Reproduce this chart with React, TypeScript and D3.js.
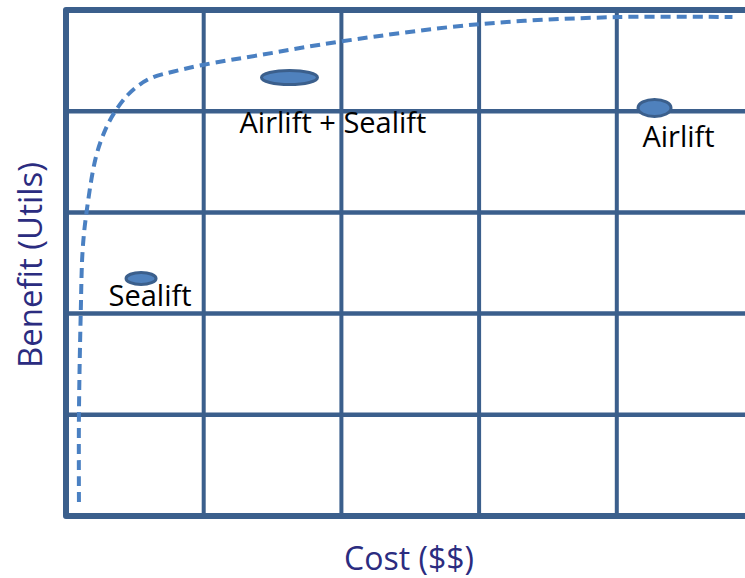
import React from "react";
import * as d3 from "d3";

// Efficient frontier curve (cost units, benefit units)
const curveCost = [0.094, 0.094, 0.107, 0.121, 0.15, 0.218, 0.29, 0.363, 0.448, 0.532, 0.63, 0.775, 0.993, 1.41, 2.0, 3.0, 4.0, 4.84];
const curveBenefit = [0.138, 1.0, 2.0, 2.63, 3.01, 3.55, 3.83, 4.01, 4.16, 4.26, 4.335, 4.39, 4.457, 4.555, 4.69, 4.86, 4.93, 4.93];

// Options
const optionNames = ["Airlift + Sealift", "Airlift", "Sealift"];
const optionCost = [1.623, 4.274, 0.545];
const optionBenefit = [4.333, 4.032, 2.347];

// Grid ticks
const xTicks = [0, 1, 2, 3, 4, 5];
const yTicks = [0, 1, 2, 3, 4, 5];

const xTitle = "Cost ($$)";
const yTitle = "Benefit (Utils)";

// styles
const markerRx = [28, 16.5, 15];
const markerRy = [7, 8.5, 6];
const labelDx = [43.5, 24, 9];
const labelDy = [55.5, 39, 28];

const W = 745;
const H = 578;
const GRID = "#3b5f8c";
const CURVE = "#4a80c2";
const FILL = "#4f81bd";
const TITLE = "#2b2c80";
const FONT = "'Open Sans', sans-serif";

export default function App() {
  const x = d3.scaleLinear().domain([0, 5]).range([66, 754.5]);
  const y = d3.scaleLinear().domain([0, 5]).range([516, 10]);

  const pts: [number, number][] = curveCost.map((c, i) => [c, curveBenefit[i]]);
  const line = d3
    .line<[number, number]>()
    .x((d) => x(d[0]))
    .y((d) => y(d[1]))
    .curve(d3.curveCatmullRom.alpha(0.5));

  return (
    <svg
      width={W}
      height={H}
      style={{ position: "absolute", left: 0, top: 0, display: "block", background: "#fff" }}
    >
      {/* inner grid lines */}
      {xTicks.slice(1).map((t) => (
        <line key={"vx" + t} x1={x(t)} x2={x(t)} y1={y(0)} y2={y(5)} stroke={GRID} strokeWidth={4} />
      ))}
      {yTicks.slice(1, -1).map((t) => (
        <line key={"hy" + t} x1={x(0)} x2={x(5)} y1={y(t)} y2={y(t)} stroke={GRID} strokeWidth={4.5} />
      ))}
      {/* outer frame */}
      <path
        d={`M${x(5)},${y(5)} L${x(0)},${y(5)} L${x(0)},${y(0)} L${x(5)},${y(0)}`}
        fill="none"
        stroke={GRID}
        strokeWidth={6}
        strokeLinejoin="round"
      />
      {/* frontier curve */}
      <path d={line(pts) || ""} fill="none" stroke={CURVE} strokeWidth={4} strokeDasharray="10 6" />
      {/* options */}
      {optionNames.map((n, i) => (
        <g key={n}>
          <ellipse
            cx={x(optionCost[i])}
            cy={y(optionBenefit[i])}
            rx={markerRx[i]}
            ry={markerRy[i]}
            fill={FILL}
            stroke={GRID}
            strokeWidth={3}
          />
          <text
            x={x(optionCost[i]) + labelDx[i]}
            y={y(optionBenefit[i]) + labelDy[i]}
            textAnchor="middle"
            fontFamily={FONT}
            fontSize={29}
            fill="#000"
          >
            {n}
          </text>
        </g>
      ))}
      {/* axis titles */}
      <text x={409} y={570} textAnchor="middle" fontFamily={FONT} fontSize={32} fill={TITLE}>
        {xTitle}
      </text>
      <text
        transform={`translate(42,265) rotate(-90)`}
        textAnchor="middle"
        fontFamily={FONT}
        fontSize={33}
        fill={TITLE}
      >
        {yTitle}
      </text>
    </svg>
  );
}
